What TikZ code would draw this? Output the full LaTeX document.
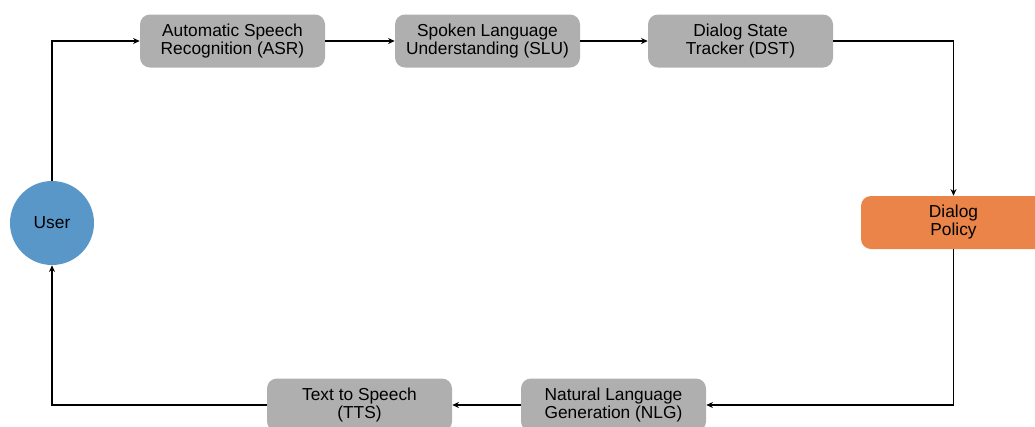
\documentclass[tikz,border=0pt]{standalone}
\usepackage{fontspec}
\setmainfont{Liberation Sans}
\usetikzlibrary{arrows.meta}
\definecolor{boxgray}{HTML}{AFAFAF}
\definecolor{policyorange}{HTML}{EA8448}
\definecolor{userblue}{HTML}{5A97C9}
\tikzset{
  module/.style={fill=boxgray, rounded corners=7.5pt, minimum width=138.75pt, minimum height=39.75pt, align=center, inner sep=0pt, font=\fontsize{13}{13.5}\selectfont},
  flow/.style={line width=1.1pt, -{Stealth[length=5pt,width=4.5pt]}}
}
\begin{document}
\begin{tikzpicture}[x=0.75pt,y=-0.75pt]
  \useasboundingbox (0,0) rectangle (1035,426);
  \node[circle, fill=userblue, minimum size=63pt, inner sep=0pt, font=\fontsize{13}{13.5}\selectfont] (user) at (52,223) {User};
  \node[module] (asr) at (232.5,41) {Automatic Speech\\Recognition (ASR)};
  \node[module] (slu) at (487.5,41) {Spoken Language\\Understanding (SLU)};
  \node[module] (dst) at (740.5,41) {Dialog State\\Tracker (DST)};
  \node[module, fill=policyorange] (policy) at (953.5,222.5) {Dialog\\Policy};
  \node[module] (nlg) at (613.5,405) {Natural Language\\Generation (NLG)};
  \node[module] (tts) at (359.5,405) {Text to Speech\\(TTS)};
  % forward path
  \draw[flow] (user.north) |- (asr.west);
  \draw[flow] (asr) -- (slu);
  \draw[flow] (slu) -- (dst);
  \draw[flow] (dst.east) -| (policy.north);
  % return path
  \draw[flow] (policy.south) |- (nlg.east);
  \draw[flow] (nlg) -- (tts);
  \draw[flow] (tts.west) -| (user.south);
\end{tikzpicture}
\end{document}
